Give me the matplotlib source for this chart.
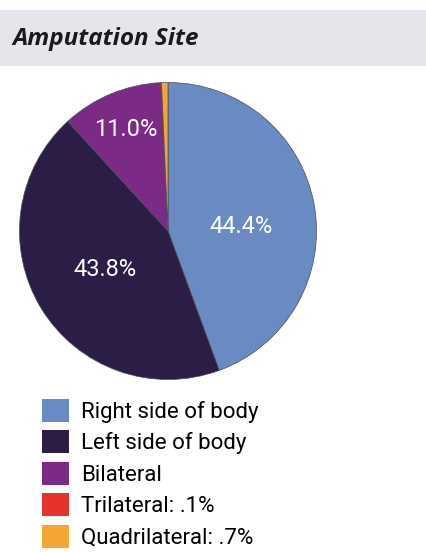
import matplotlib
matplotlib.use("Agg")
import matplotlib.pyplot as plt
from matplotlib.patches import Rectangle

# amputation site shares (percent)
categories = ["Right side of body", "Left side of body", "Bilateral",
              "Trilateral", "Quadrilateral"]
shares = [44.4, 43.8, 11.0, 0.1, 0.7]
legend_labels = ["Right side of body", "Left side of body", "Bilateral",
                 "Trilateral: .1%", "Quadrilateral: .7%"]
colors = ["#6a8bc2", "#2b1d45", "#7b2b86", "#e6322a", "#f4a532"]

narrow = ["Roboto", "DejaVu Sans"]

fig = plt.figure(figsize=(4.27, 5.52), dpi=100)
W, H = 427, 552

# grey title band
fig.patches.append(Rectangle((0, 1 - 66 / H), 1, 56 / H, transform=fig.transFigure,
                             facecolor="#e5e6eb", edgecolor="none", zorder=0))
fig.text(12 / W, 1 - 39 / H, "Amputation Site", fontsize=17.5, fontweight="bold",
         fontstyle="italic", family=["Open Sans", "DejaVu Sans"], color="#1a1a1a",
         va="center", ha="left")

# pie
ax = fig.add_axes([18 / W, 1 - 381 / H, 300 / W, 300 / H])


def pct_label(p):
    return "%.1f%%" % p if p > 5 else ""


wedges, texts, autotexts = ax.pie(shares, colors=colors, startangle=90,
                                  counterclock=False, autopct=pct_label,
                                  pctdistance=0.5,
                                  wedgeprops=dict(edgecolor="#4a4a5a", linewidth=0.5),
                                  textprops=dict(color="white", fontsize=17,
                                                 family=narrow))
# nudge the right-side label down a bit and push the bilateral label outward
x, y = autotexts[0].get_position()
autotexts[0].set_position((x, y * 0.35))
x, y = autotexts[2].get_position()
autotexts[2].set_position((x * 1.48, y * 1.48))
ax.set_xlim(-1.01, 1.01)
ax.set_ylim(-1.01, 1.01)
ax.set_aspect("equal")
ax.axis("off")

fig.legend(wedges, legend_labels, loc="upper left",
           bbox_to_anchor=(42 / W, 1 - 399 / H), frameon=False,
           prop=dict(family=narrow, size=16), handlelength=1.22, handleheight=1.2,
           handletextpad=0.55, labelspacing=0.34, borderpad=0, borderaxespad=0)
for h in fig.legends[0].legend_handles:
    h.set_edgecolor("none")

fig.savefig("out.png", dpi=100)
